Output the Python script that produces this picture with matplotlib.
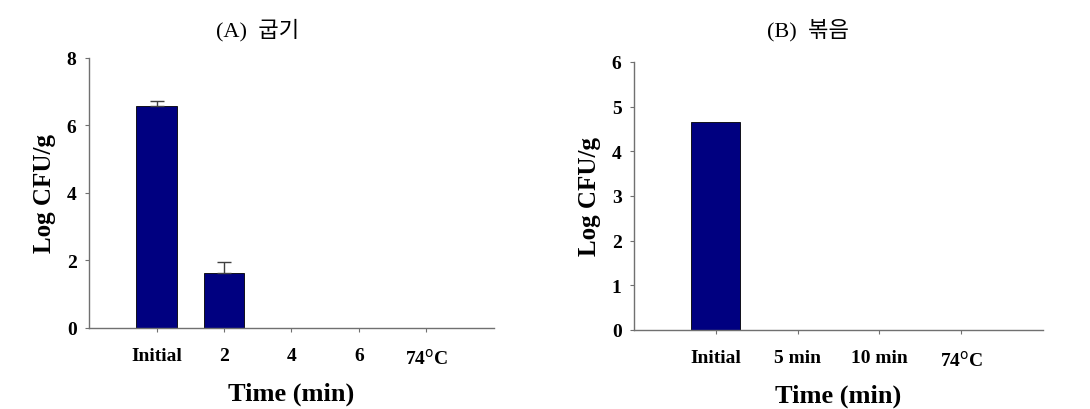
import matplotlib.pyplot as plt

plt.rcParams['font.family'] = ['Liberation Serif', 'Noto Sans CJK KR']

# (A) baking
labels_a = ['Initial', '2', '4', '6', '74$^{\\rm o}$C']
values_a = [6.58, 1.63, 0, 0, 0]
errors_a = [0.15, 0.32, 0, 0, 0]

# (B) stir-frying
labels_b = ['Initial', '5 min', '10 min', '74$^{\\rm o}$C']
values_b = [4.65, 0, 0, 0]

bar_color = '#000080'
axis_color = '#707070'

fig = plt.figure(figsize=(10.9, 4.1), dpi=100)
ax1 = fig.add_axes([0.0817, 0.1976, 0.3713, 0.6585])
ax2 = fig.add_axes([0.5817, 0.1927, 0.3752, 0.6537])


def style_axis(ax, labels, ymax, yticks):
    ax.set_xlim(-1, len(labels))
    ax.set_ylim(0, ymax)
    ax.set_xticks(range(len(labels)))
    ax.set_xticklabels(labels, fontsize=14, fontweight='bold')
    ax.set_yticks(yticks)
    ax.set_yticklabels([str(t) for t in yticks], fontsize=14, fontweight='bold')
    for side in ['top', 'right']:
        ax.spines[side].set_visible(False)
    for side in ['left', 'bottom']:
        ax.spines[side].set_color(axis_color)
        ax.spines[side].set_linewidth(1.0)
    ax.tick_params(axis='both', direction='out', length=3, color=axis_color)
    ax.tick_params(axis='x', pad=11)
    ax.tick_params(axis='y', pad=6)
    ax.set_ylabel('Log CFU/g', fontsize=18, fontweight='bold', labelpad=8)
    ax.set_xlabel('Time (min)', fontsize=19, fontweight='bold', labelpad=10)


x_a = range(len(labels_a))
ax1.bar(x_a, values_a, width=0.6, color=bar_color, edgecolor='black', linewidth=0.6)
ax1.errorbar([0, 1], values_a[:2], yerr=[[0, 0], errors_a[:2]], fmt='none',
             ecolor='#404040', elinewidth=1, capsize=5)
style_axis(ax1, labels_a, 8, [0, 2, 4, 6, 8])

x_b = range(len(labels_b))
ax2.bar(x_b, values_b, width=0.6, color=bar_color, edgecolor='black', linewidth=0.6)
style_axis(ax2, labels_b, 6, [0, 1, 2, 3, 4, 5, 6])

fig.text(258 / 1090, 1 - 30 / 410, '(A)  굽기', fontsize=16, ha='center', va='center')
fig.text(808 / 1090, 1 - 30 / 410, '(B)  볶음', fontsize=16, ha='center', va='center')

fig.savefig('out.png', dpi=100)
